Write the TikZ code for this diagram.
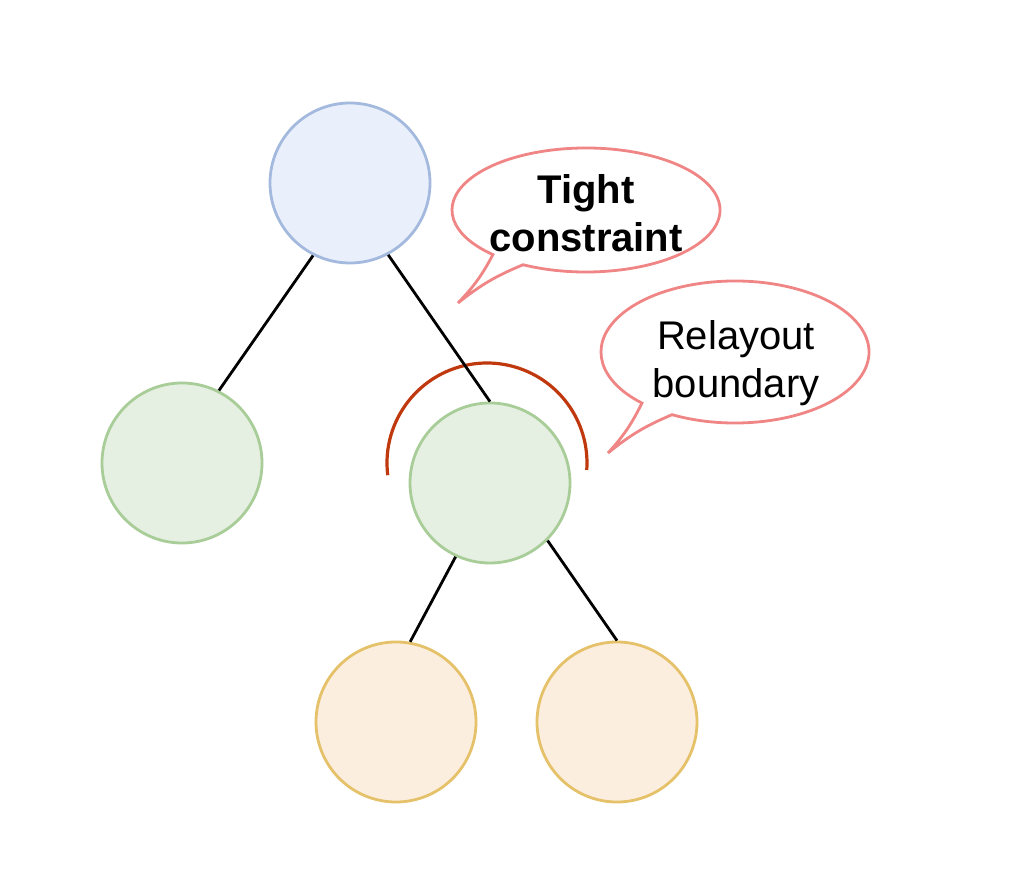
\documentclass[tikz,border=0pt]{standalone}
\usepackage{fontspec}
\setmainfont{Liberation Sans}

\definecolor{blueFill}{HTML}{EAF0FB}
\definecolor{blueLine}{HTML}{A4B9DE}
\definecolor{greenFill}{HTML}{E5F0E2}
\definecolor{greenLine}{HTML}{A9CD98}
\definecolor{orangeFill}{HTML}{FCEEDF}
\definecolor{orangeLine}{HTML}{E5C16A}
\definecolor{arcRed}{HTML}{C0390E}
\definecolor{bubbleRed}{HTML}{F08585}

\begin{document}
\begin{tikzpicture}[x=1pt,y=1pt,line width=2.8pt]

% Shapes
\tikzset{
    treenode/.style={circle,draw,inner sep=0pt,minimum size=160pt},
    bubble/.style={draw=bubbleRed,fill=white},
    bubbletext/.style={align=center,font=\fontsize{40}{48}\selectfont},
}
\useasboundingbox (0,0) rectangle (1014,876);

% Tree nodes
\node[treenode,fill=blueFill,draw=blueLine] (root) at (350,693) {};
\node[treenode,fill=greenFill,draw=greenLine] (lgreen) at (182,413) {};
\node[treenode,fill=greenFill,draw=greenLine] (rgreen) at (490,393) {};
\node[treenode,fill=orangeFill,draw=orangeLine] (lorange) at (396,154) {};
\node[treenode,fill=orangeFill,draw=orangeLine] (rorange) at (617,154) {};

% Relayout boundary arc
\draw[arcRed,line width=3.2pt] (487,413) ++(187:100) arc[start angle=187,end angle=-4,radius=100];

% Edges
\draw (root.243) -- (lgreen.63);
\draw (root.298) -- (rgreen.north);
\draw (rgreen.245) -- (lorange.80);
\draw (rgreen.315) -- (rorange.north);

% Callouts
\draw[bubble] (586,666) ++(242:134 and 62)
    arc[start angle=242,end angle=586,x radius=134,y radius=62]
    to[bend left=8] (458,573) to[bend left=8] cycle;
\node[bubbletext] (tight) at (586,663) {\bfseries Tight\\\bfseries constraint};

\draw[bubble] (735,524) ++(242:134 and 71)
    arc[start angle=242,end angle=586,x radius=134,y radius=71]
    to[bend left=8] (608,423) to[bend left=8] cycle;
\node[bubbletext] (relayout) at (736,513) {Relayout\\boundary};
\end{tikzpicture}
\end{document}
